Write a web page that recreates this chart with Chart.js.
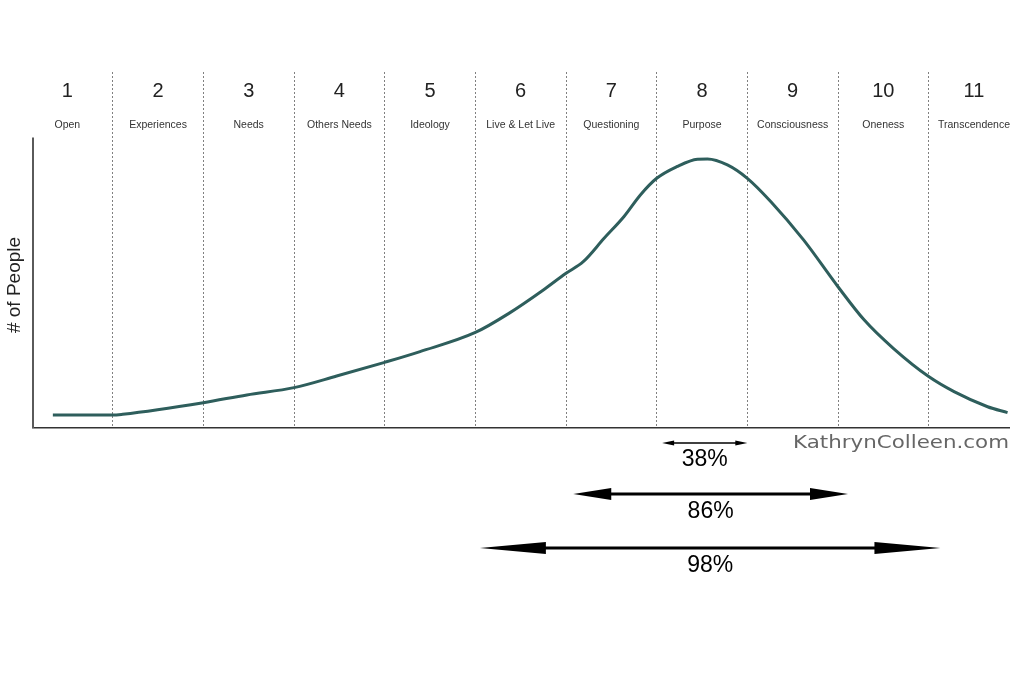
<!DOCTYPE html>
<html>
<head>
<meta charset="utf-8">
<script src="https://cdn.jsdelivr.net/npm/chart.js@4/dist/chart.umd.min.js"></script>
<style>
  html, body { margin: 0; padding: 0; background: #ffffff; }
  #wrap { width: 1024px; height: 675px; }
</style>
</head>
<body>
<div id="wrap"><canvas id="c" width="1024" height="675"></canvas></div>
<script>
// ---- Data ----
const stageNumbers = ["1", "2", "3", "4", "5", "6", "7", "8", "9", "10", "11"];
const stageNames = ["Open", "Experiences", "Needs", "Others Needs", "Ideology", "Live & Let Live",
  "Questioning", "Purpose", "Consciousness", "Oneness", "Transcendence"];

// Position along the stage axis (stage boundaries are integers) and relative number of people
const curveX = [0.34, 1.0, 1.11, 2.0, 2.48, 3.0, 3.47, 4.0, 4.39, 5.0, 5.37, 5.75, 6.0, 6.19, 6.42,
  6.64, 6.82, 7.0, 7.22, 7.45, 7.56, 7.78, 8.0, 8.26, 8.62, 9.0, 9.29, 9.61, 10.0, 10.28, 10.65, 10.87];
const curveY = [4.8, 4.8, 5.1, 9.4, 12.3, 15.0, 19.3, 24.4, 28.4, 35.5, 42.6, 51.3, 57.5, 61.8, 70.5,
  78.6, 86.6, 92.8, 97.1, 99.9, 100, 97.8, 92.8, 84.1, 69.9, 52.5, 40.1, 29.6, 19.1, 13.5, 7.9, 5.7];

const arrowLabels = ["38%", "86%", "98%"];
const arrowStart = [7.06, 6.08, 5.05];
const arrowEnd = [8.0, 9.11, 10.13];

const yAxisTitle = "# of People";
const watermark = "KathrynColleen.com";

// ---- Plugin for annotations ----
const annot = {
  id: 'annot',
  afterDraw(chart) {
    const ctx = chart.ctx;
    const xs = chart.scales.x, ys = chart.scales.y;
    const area = chart.chartArea;
    ctx.save();
    // y axis line (shorter than plotting area)
    ctx.strokeStyle = '#5a5a5a';
    ctx.lineWidth = 2;
    ctx.beginPath();
    ctx.moveTo(area.left, ys.getPixelForValue(108));
    ctx.lineTo(area.left, area.bottom);
    ctx.stroke();

    // stage labels
    ctx.textAlign = 'center';
    ctx.textBaseline = 'middle';
    for (let i = 0; i < stageNumbers.length; i++) {
      const cx = xs.getPixelForValue(i + 0.5);
      ctx.fillStyle = '#222';
      ctx.font = '20px "Liberation Sans", Arial, sans-serif';
      ctx.fillText(stageNumbers[i], cx, 91);
      ctx.fillStyle = '#333';
      ctx.font = '10.5px "Liberation Sans", Arial, sans-serif';
      ctx.fillText(stageNames[i], cx, 125);
    }

    // y axis title
    ctx.save();
    ctx.translate(15, 285);
    ctx.rotate(-Math.PI / 2);
    ctx.fillStyle = '#222';
    ctx.font = '19px "Liberation Sans", Arial, sans-serif';
    ctx.fillText(yAxisTitle, 0, 0);
    ctx.restore();

    // watermark
    ctx.save();
    ctx.font = '18px "DejaVu Sans", sans-serif';
    const w = ctx.measureText(watermark).width;
    const right = area.right;
    const targetW = 216;
    ctx.translate(right - targetW, 448);
    ctx.scale(targetW / w, 1);
    ctx.fillStyle = '#666';
    ctx.textAlign = 'left';
    ctx.textBaseline = 'alphabetic';
    ctx.fillText(watermark, 0, 0);
    ctx.restore();

    // arrows
    const rows = [
      {dy: 15, ty: 32, lw: 1.5, hl: 12, hw: 2.5},
      {dy: 66, ty: 84, lw: 3, hl: 38, hw: 6},
      {dy: 120, ty: 137.5, lw: 3, hl: 66, hw: 6}
    ];
    ctx.fillStyle = '#000';
    ctx.strokeStyle = '#000';
    for (let i = 0; i < arrowLabels.length; i++) {
      const r = rows[i];
      const x0 = xs.getPixelForValue(arrowStart[i]);
      const x1 = xs.getPixelForValue(arrowEnd[i]);
      const y = area.bottom + r.dy;
      ctx.lineWidth = r.lw;
      ctx.beginPath();
      ctx.moveTo(x0 + r.hl * 0.5, y);
      ctx.lineTo(x1 - r.hl * 0.5, y);
      ctx.stroke();
      ctx.beginPath();
      ctx.moveTo(x0, y);
      ctx.lineTo(x0 + r.hl, y - r.hw);
      ctx.lineTo(x0 + r.hl, y + r.hw);
      ctx.closePath();
      ctx.fill();
      ctx.beginPath();
      ctx.moveTo(x1, y);
      ctx.lineTo(x1 - r.hl, y - r.hw);
      ctx.lineTo(x1 - r.hl, y + r.hw);
      ctx.closePath();
      ctx.fill();
      ctx.font = '23px "Liberation Sans", Arial, sans-serif';
      ctx.textAlign = 'center';
      ctx.textBaseline = 'middle';
      ctx.fillText(arrowLabels[i], (x0 + x1) / 2, area.bottom + r.ty);
    }
    ctx.restore();
  }
};

new Chart(document.getElementById('c'), {
  type: 'line',
  data: {
    datasets: [{
      data: curveX.map((x, i) => ({x: x, y: curveY[i]})),
      borderColor: '#2e5e5c',
      borderWidth: 3,
      pointRadius: 0,
      tension: 0.4,
      cubicInterpolationMode: 'monotone',
      fill: false
    }]
  },
  options: {
    responsive: false,
    animation: false,
    devicePixelRatio: 1,
    layout: { padding: { left: 33, right: 15, top: 72, bottom: 247 } },
    plugins: { legend: { display: false }, tooltip: { enabled: false } },
    scales: {
      x: {
        type: 'linear',
        min: 0.121,
        max: 10.886,
        afterFit: s => { s.height = 0; },
        ticks: { display: false, stepSize: 1, includeBounds: false },
        grid: { drawTicks: false, color: '#808080', lineWidth: 1 },
        border: { display: true, color: '#333', width: 1.5, dash: [2, 2] }
      },
      y: {
        display: false,
        min: 0,
        max: 132.3
      }
    }
  },
  plugins: [annot]
});
</script>
</body>
</html>
